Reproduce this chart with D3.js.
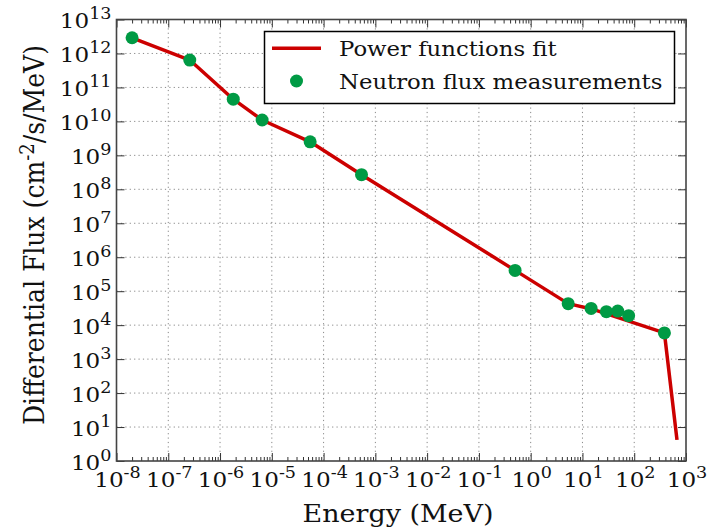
<!DOCTYPE html>
<html>
<head>
<meta charset="utf-8">
<script src="https://cdn.jsdelivr.net/npm/d3@7"></script>
<style>
  body { margin: 0; background: #fff; }
  text { font-family: "DejaVu Serif", serif; fill: #111; }
</style>
</head>
<body>
<svg id="chart" width="715" height="529"></svg>
<script>
// measured neutron flux points (MeV, cm^-2/s/MeV)
const energy = [2.0e-8, 2.6e-7, 1.8e-6, 6.5e-6, 5.5e-5, 5.4e-4, 0.5, 5.3, 14.7, 29, 48, 78, 383];
const flux = [2.9e12, 6.4e11, 4.5e10, 1.1e10, 2.5e9, 2.7e8, 4.1e5, 4.3e4, 3.1e4, 2.5e4, 2.6e4, 1.9e4, 5.9e3];

// power functions fit nodes
const fitEnergy = [2.0e-8, 2.6e-7, 1.8e-6, 6.5e-6, 5.5e-5, 5.4e-4, 0.5, 5.3, 15, 383, 670];
const fitFlux = [2.9e12, 6.4e11, 4.5e10, 1.1e10, 2.5e9, 2.7e8, 4.1e5, 4.3e4, 3.0e4, 5.9e3, 4.2];

const xExps = d3.range(-8, 4);   // 10^-8 .. 10^3
const yExps = d3.range(0, 14);   // 10^0 .. 10^13

const pLeft = 116.5, pRight = 686, pTop = 19.5, pBottom = 461;
const stretch = 1.1; // text in the original is a bit wider than tall

const svg = d3.select("#chart");

const x = d3.scaleLog().domain([1e-8, 1e3]).range([pLeft, pRight]);
const y = d3.scaleLog().domain([1, 1e13]).range([pBottom, pTop]);

const xMajor = xExps.map(e => Math.pow(10, e));
const yMajor = yExps.map(e => Math.pow(10, e));
const xMinor = [];
xExps.slice(0, -1).forEach(e => {
  for (let k = 2; k < 10; k++) xMinor.push(k * Math.pow(10, e));
});

// grid
const grid = svg.append("g").attr("stroke", "#888").attr("stroke-width", 1)
  .attr("stroke-dasharray", "1.2,3.2");
grid.selectAll(".gx").data(xMajor.slice(1, -1)).enter().append("line")
  .attr("x1", d => x(d)).attr("x2", d => x(d)).attr("y1", pTop).attr("y2", pBottom);
grid.selectAll(".gy").data(yMajor.slice(1, -1)).enter().append("line")
  .attr("x1", pLeft).attr("x2", pRight).attr("y1", d => y(d)).attr("y2", d => y(d));

// axes with inward ticks
function addAxis(axis, tf) {
  const g = svg.append("g").attr("transform", tf).call(axis);
  g.select(".domain").remove();
  g.selectAll("line").attr("stroke", "#333").attr("stroke-width", 1);
  g.selectAll("text").remove();
  return g;
}
addAxis(d3.axisBottom(x).tickValues(xMajor).tickSize(-8), `translate(0,${pBottom})`);
addAxis(d3.axisBottom(x).tickValues(xMinor).tickSize(-4), `translate(0,${pBottom})`);
addAxis(d3.axisTop(x).tickValues(xMajor).tickSize(-8), `translate(0,${pTop})`);
addAxis(d3.axisTop(x).tickValues(xMinor).tickSize(-4), `translate(0,${pTop})`);
addAxis(d3.axisLeft(y).tickValues(yMajor).tickSize(-8), `translate(${pLeft},0)`);
addAxis(d3.axisRight(y).tickValues(yMajor).tickSize(-8), `translate(${pRight},0)`);

// frame
svg.append("rect").attr("x", pLeft).attr("y", pTop)
  .attr("width", pRight - pLeft).attr("height", pBottom - pTop)
  .attr("fill", "none").attr("stroke", "#444").attr("stroke-width", 1.6);

// tick labels: 10 with a superscript exponent
function powLabel(t, d) {
  t.append("tspan").text("10");
  t.append("tspan").attr("dy", -9).attr("font-size", 16).text(d);
}
const xl = svg.append("g").attr("font-size", 21).attr("text-anchor", "middle");
xl.selectAll("text").data(xExps).enter().append("text")
  .attr("transform", d => `translate(${x(Math.pow(10, d)) + 1},486.5) scale(${stretch},1)`)
  .each(function (d) { powLabel(d3.select(this), d); });

const yl = svg.append("g").attr("font-size", 21).attr("text-anchor", "end");
yl.selectAll("text").data(yExps).enter().append("text")
  .attr("transform", d => `translate(${pLeft - 5},${y(Math.pow(10, d)) + 8.5}) scale(${stretch},1)`)
  .each(function (d) { powLabel(d3.select(this), d); });

// fit line
const line = d3.line().x((d, i) => x(fitEnergy[i])).y(d => y(d));
svg.append("path").datum(fitFlux).attr("d", line)
  .attr("fill", "none").attr("stroke", "#cc0000").attr("stroke-width", 3.5)
  .attr("stroke-linejoin", "round");

// measurement points
svg.selectAll(".pt").data(flux).enter().append("circle")
  .attr("cx", (d, i) => x(energy[i])).attr("cy", d => y(d)).attr("r", 6.5)
  .attr("fill", "#009a44");

// axis titles
svg.append("text").attr("transform", `translate(398,521.5) scale(${stretch},1)`)
  .attr("text-anchor", "middle").attr("font-size", 24.5).text("Energy (MeV)");

const yt = svg.append("text")
  .attr("transform", `translate(43.5,235) scale(${stretch},1) rotate(-90)`)
  .attr("text-anchor", "middle").attr("font-size", 25.1);
yt.append("tspan").text("Differential Flux (cm");
yt.append("tspan").attr("dy", -9).attr("font-size", 18).text("-2");
yt.append("tspan").attr("dy", 9).text("/s/MeV)");

// legend
const lg = svg.append("g");
lg.append("rect").attr("x", 264.5).attr("y", 31.5).attr("width", 410).attr("height", 72)
  .attr("fill", "#fff").attr("stroke", "#000").attr("stroke-width", 1.5);
lg.append("line").attr("x1", 272).attr("x2", 321).attr("y1", 48.3).attr("y2", 48.3)
  .attr("stroke", "#cc0000").attr("stroke-width", 3.5);
lg.append("circle").attr("cx", 296.5).attr("cy", 81).attr("r", 6.5).attr("fill", "#009a44");
lg.append("text").attr("transform", `translate(339,55.5) scale(${stretch},1)`)
  .attr("font-size", 20.7).text("Power functions fit");
lg.append("text").attr("transform", `translate(339,88.5) scale(${stretch},1)`)
  .attr("font-size", 20.7).text("Neutron flux measurements");
</script>
</body>
</html>
